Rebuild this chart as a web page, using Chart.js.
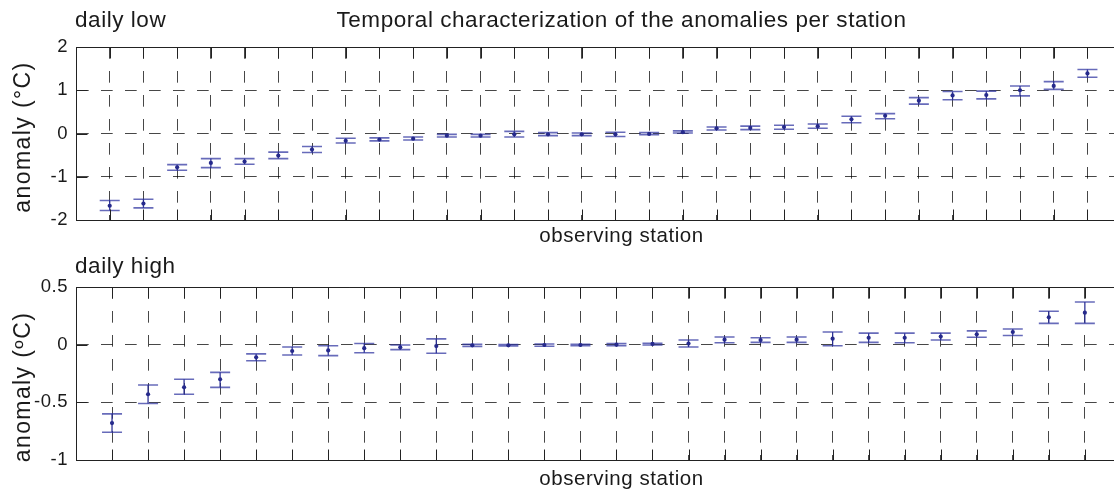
<!DOCTYPE html>
<html><head><meta charset="utf-8">
<script src="https://cdn.jsdelivr.net/npm/chart.js@4.4.0/dist/chart.umd.min.js"></script>
<style>
html,body{margin:0;padding:0;overflow:hidden;background:#fff;width:1114px;height:495px;}
#wrap{position:relative;width:1114px;height:495px;overflow:hidden;}
canvas{position:absolute;left:0;}
#c1{top:0}
#c2{top:250px}
</style></head><body>
<div id="wrap">
<canvas id="c1" width="1180" height="250"></canvas>
<canvas id="c2" width="1180" height="245"></canvas>
</div>
<script>
const mainTitle = 'Temporal characterization of the anomalies per station';
const panelNames = ['daily low', 'daily high'];
const xTitle = 'observing station';
const yTitles = ['anomaly (°C)', 'anomaly (ºC)'];

// daily low panel
const lowStations = [1,2,3,4,5,6,7,8,9,10,11,12,13,14,15,16,17,18,19,20,21,22,23,24,25,26,27,28,29,30];
const lowMean  = [-1.67,-1.62,-0.78,-0.68,-0.65,-0.51,-0.37,-0.17,-0.14,-0.12,-0.05,-0.05,-0.02,-0.02,-0.02,-0.02,-0.01,0.03,0.12,0.13,0.15,0.17,0.33,0.41,0.76,0.88,0.89,1.00,1.10,1.39];
const lowLower = [-1.78,-1.72,-0.85,-0.79,-0.71,-0.58,-0.44,-0.22,-0.17,-0.15,-0.08,-0.08,-0.08,-0.05,-0.05,-0.07,-0.03,0.01,0.08,0.09,0.10,0.12,0.25,0.34,0.68,0.78,0.80,0.87,1.02,1.30];
const lowUpper = [-1.55,-1.52,-0.72,-0.58,-0.58,-0.43,-0.30,-0.11,-0.10,-0.08,-0.02,-0.02,0.05,0.02,0.01,0.03,0.02,0.06,0.15,0.17,0.19,0.22,0.40,0.46,0.83,0.97,0.98,1.10,1.20,1.48];
const lowYTicks = [-2,-1,0,1,2];
const lowYLabels = ['-2','-1','0','1','2'];

// daily high panel
const highStations = [1,2,3,4,5,6,7,8,9,10,11,12,13,14,15,16,17,18,19,20,21,22,23,24,25,26,27,28];
const highMean  = [-0.68,-0.43,-0.37,-0.30,-0.11,-0.055,-0.05,-0.03,-0.023,-0.012,-0.006,-0.006,-0.003,-0.003,0.0,0.006,0.01,0.043,0.04,0.043,0.052,0.06,0.06,0.07,0.09,0.11,0.237,0.277];
const highLower = [-0.76,-0.51,-0.43,-0.37,-0.14,-0.09,-0.095,-0.07,-0.043,-0.075,-0.015,-0.012,-0.014,-0.009,-0.009,-0.003,-0.02,0.017,0.02,0.02,-0.01,0.02,0.017,0.04,0.064,0.08,0.185,0.185];
const highUpper = [-0.60,-0.35,-0.30,-0.24,-0.08,-0.02,-0.01,0.01,-0.003,0.05,0.003,0.0,0.006,0.003,0.009,0.012,0.04,0.066,0.06,0.066,0.11,0.10,0.10,0.10,0.12,0.136,0.29,0.37];
const highYTicks = [-1,-0.5,0,0.5];
const highYLabels = ['-1','-0.5','0','0.5'];

Chart.defaults.font.family = '"Liberation Sans", Arial, Helvetica, sans-serif';
Chart.defaults.color = '#1a1a1a';

const TEXT = '#1a1a1a';
const GRID = 'rgba(0,0,0,0.72)';
const FRAME = '#222';
const MARK = '#262a8c';

function al(v){ return Math.round(v) + 0.5; }

const panelPlugin = {
  id: 'panel',
  beforeDraw(chart){ chart.ctx.letterSpacing = '0.55px'; },
  beforeDatasetsDraw(chart, args, o){
    const {ctx, chartArea: a, scales: {x, y}} = chart;
    ctx.save();
    ctx.beginPath(); ctx.rect(a.left, a.top, a.right - a.left, a.bottom - a.top); ctx.clip();
    o.stations.forEach((s, i) => {
      const px = x.getPixelForValue(s);
      const pl = y.getPixelForValue(o.lower[i]);
      const ph = y.getPixelForValue(o.upper[i]);
      ctx.strokeStyle = 'rgba(38,42,145,0.95)'; ctx.lineWidth = 1.3;
      ctx.beginPath(); ctx.moveTo(px, pl); ctx.lineTo(px, ph); ctx.stroke();
      ctx.strokeStyle = 'rgba(45,50,160,0.72)'; ctx.lineWidth = 1.6;
      ctx.beginPath();
      ctx.moveTo(px - 10, pl); ctx.lineTo(px + 10, pl);
      ctx.moveTo(px - 10, ph); ctx.lineTo(px + 10, ph);
      ctx.stroke();
    });
    ctx.restore();
  },
  afterDraw(chart, args, o){
    const {ctx, chartArea: a, scales: {x, y}} = chart;
    ctx.save();
    ctx.strokeStyle = FRAME; ctx.lineWidth = 1;
    const L = al(a.left), R = al(a.right), T = al(a.top), B = al(a.bottom);
    ctx.beginPath();
    ctx.moveTo(L, T); ctx.lineTo(R, T); ctx.lineTo(R, B); ctx.lineTo(L, B); ctx.closePath();
    ctx.stroke();
    ctx.beginPath();
    y.ticks.forEach(t => {
      const py = al(y.getPixelForValue(t.value));
      ctx.moveTo(L, py); ctx.lineTo(L + 11, py);
      ctx.moveTo(R, py); ctx.lineTo(R - 11, py);
    });
    x.ticks.forEach(t => {
      const px = al(x.getPixelForValue(t.value));
      ctx.moveTo(px, B); ctx.lineTo(px, B - 11);
      ctx.moveTo(px, T); ctx.lineTo(px, T + 11);
    });
    ctx.stroke();
    ctx.fillStyle = TEXT;
    ctx.font = '22.5px "Liberation Sans", Arial, sans-serif';
    ctx.letterSpacing = '0.55px';
    ctx.textAlign = 'left'; ctx.textBaseline = 'alphabetic';
    ctx.fillText(o.name, 75, o.nameY);
    ctx.font = '23px "Liberation Sans", Arial, sans-serif';
    ctx.letterSpacing = '1.4px';
    ctx.translate(29.5, 137);
    ctx.rotate(-Math.PI / 2);
    ctx.textAlign = 'center';
    ctx.fillText(o.yTitle, 0, 0);
    ctx.restore();
  }
};

function makeChart(id, cfg){
  return new Chart(document.getElementById(id), {
    type: 'scatter',
    data: { datasets: [{
      data: cfg.stations.map((s, i) => ({x: s, y: cfg.mean[i]})),
      pointRadius: 2.1, pointHoverRadius: 2.1,
      pointBackgroundColor: MARK, pointBorderWidth: 0
    }]},
    options: {
      responsive: false, animation: false, devicePixelRatio: 1, events: [],
      layout: { padding: { left: 0, right: 13, top: cfg.padTop, bottom: 0 } },
      plugins: {
        legend: { display: false }, tooltip: { enabled: false },
        title: cfg.title ? { display: true, text: cfg.title, fullSize: false, color: TEXT,
          font: { size: 22.5, weight: 'normal', lineHeight: 1 }, padding: { top: 9.3, bottom: 15.2 } } : { display: false },
        panel: { stations: cfg.stations, lower: cfg.lower, upper: cfg.upper, name: cfg.name, nameY: cfg.nameY, yTitle: cfg.yTitle }
      },
      scales: {
        x: {
          type: 'linear', min: 0, max: cfg.xMax,
          afterBuildTicks: s => { s.ticks = cfg.stations.map(v => ({value: v})); },
          ticks: { display: false },
          grid: { color: GRID, lineWidth: 1, drawTicks: false },
          border: { display: true, color: FRAME, width: 1, dash: [11.7, 12.3] },
          title: { display: true, text: xTitle, color: TEXT, font: { size: 20.5, lineHeight: 1 }, padding: { top: 0, bottom: cfg.xTitlePad } },
          afterFit: s => { s.height = cfg.xHeight; }
        },
        y: {
          type: 'linear', min: cfg.yMin, max: cfg.yMax,
          afterBuildTicks: s => { s.ticks = cfg.yTicks.map(v => ({value: v})); },
          ticks: { callback: (v, i) => cfg.yLabels[i], color: TEXT, font: { size: 18.5 }, padding: 8 },
          grid: { color: GRID, lineWidth: 1, drawTicks: false },
          border: { display: true, color: FRAME, width: 1, dash: [11.7, 12.3] },
          afterFit: s => { s.width = 76; }
        }
      }
    },
    plugins: [panelPlugin]
  });
}

makeChart('c1', {
  stations: lowStations, mean: lowMean, lower: lowLower, upper: lowUpper,
  yMin: -2, yMax: 2, yTicks: lowYTicks, yLabels: lowYLabels,
  xMax: 32.36, xHeight: 30, xTitlePad: 3.0, padTop: 0,
  title: mainTitle, name: panelNames[0], nameY: 27.3, yTitle: yTitles[0]
});
makeChart('c2', {
  stations: highStations, mean: highMean, lower: highLower, upper: highUpper,
  yMin: -1, yMax: 0.5, yTicks: highYTicks, yLabels: highYLabels,
  xMax: 30.28, xHeight: 35, xTitlePad: 5.0, padTop: 37,
  title: null, name: panelNames[1], nameY: 23.3, yTitle: yTitles[1]
});
</script>
</body></html>
